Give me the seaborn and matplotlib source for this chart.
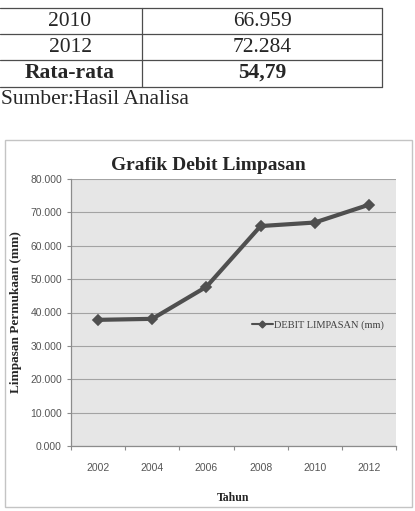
import numpy as np
import pandas as pd
import seaborn as sns
import matplotlib.pyplot as plt
from matplotlib.lines import Line2D
from matplotlib.patches import Rectangle

# data tabel (potongan bagian bawah tabel)
tabel_tahun = ['2010', '2012']
tabel_debit = ['66.959', '72.284']
rata_label = 'Rata-rata'
rata_nilai = '54,79'
sumber = 'Sumber:Hasil Analisa'

# data grafik
tahun = ['2002', '2004', '2006', '2008', '2010', '2012']
debit = [37.8, 38.1, 47.7, 65.9, 66.959, 72.284]
y_ticks = [0, 10, 20, 30, 40, 50, 60, 70, 80]

W, H = 415, 511


def px(x, y):
    # piksel -> koordinat figure
    return x / W, 1 - y / H


sns.set_theme(style='whitegrid', rc={'axes.facecolor': '#e6e6e6',
                                     'grid.color': '#a3a3a3',
                                     'grid.linewidth': 0.8,
                                     'axes.edgecolor': '#8c8c8c'})
plt.rcParams['font.family'] = ['Liberation Serif', 'DejaVu Serif']

fig = plt.figure(figsize=(W / 100, H / 100), dpi=100)
fig.patch.set_facecolor('white')

# ---- tabel ----
garis = dict(color='#4d4d4d', lw=0.9)
for yy in [8, 34, 60, 87]:
    fig.add_artist(Line2D([0, 382 / W], [1 - yy / H] * 2, **garis))
for xx in [142, 382]:
    fig.add_artist(Line2D([xx / W] * 2, [1 - 8 / H, 1 - 87 / H], **garis))

baris_y = [21, 47]
for t, d, yy in zip(tabel_tahun, tabel_debit, baris_y):
    fig.text(*px(70, yy), t, ha='center', va='center', fontsize=15.5)
    fig.text(*px(262, yy), d, ha='center', va='center', fontsize=15.5)
fig.text(*px(70, 73), rata_label, ha='center', va='center', fontsize=15.5, fontweight='bold')
fig.text(*px(262, 73), rata_nilai, ha='center', va='center', fontsize=15.5, fontweight='bold')
fig.text(*px(1, 100), sumber, ha='left', va='center', fontsize=15.5)

# ---- kotak grafik ----
fig.add_artist(Rectangle(px(5, 507), 407 / W, 367 / H, fill=False,
                         edgecolor='#c4c4c4', lw=1.0, transform=fig.transFigure))

ax = fig.add_axes([71 / W, 1 - 446 / H, 325 / W, 267 / H])

df = pd.DataFrame({'Tahun': tahun, 'Debit': debit})
sns.pointplot(data=df, x='Tahun', y='Debit', color='#4f4f4f', markers='D',
              linestyles='-', linewidth=3.0, markersize=5, markeredgewidth=1.2,
              errorbar=None, ax=ax)

ax.set_xlim(-0.5, len(tahun) - 0.5)
ax.set_ylim(0, 80)
ax.set_yticks(y_ticks)
ax.set_yticklabels([f'{v:.3f}' for v in y_ticks])
ax.grid(axis='x', visible=False)
ax.grid(axis='y', visible=True)
ax.set_axisbelow(True)

for s in ['top', 'right']:
    ax.spines[s].set_visible(False)
for s in ['left', 'bottom']:
    ax.spines[s].set_color('#8c8c8c')
    ax.spines[s].set_linewidth(0.9)

ax.tick_params(axis='y', which='major', length=3, color='#8c8c8c', width=0.8,
               pad=3.5, labelsize=7.5, labelcolor='#555555', left=True)
ax.set_xticks(np.arange(-0.5, len(tahun), 1.0), minor=True)
ax.tick_params(axis='x', which='major', length=0, pad=12, labelsize=7.5,
               labelcolor='#555555')
ax.tick_params(axis='x', which='minor', length=3, color='#8c8c8c', width=0.8,
               bottom=True, direction='out')
for lab in ax.get_xticklabels() + ax.get_yticklabels():
    lab.set_family(['Liberation Sans', 'DejaVu Sans'])

ax.set_xlabel('Tahun', fontsize=8.5, fontweight='bold')
ax.xaxis.set_label_coords(0.5, -0.172)
ax.set_ylabel('Limpasan Permukaan (mm)', fontsize=9.5, fontweight='bold')
ax.yaxis.set_label_coords(-0.151, 0.5)

fig.text(*px(208, 165), 'Grafik Debit Limpasan', ha='center', va='center',
         fontsize=14, fontweight='bold')

handle = Line2D([], [], color='#4f4f4f', lw=1.5, marker='D', markersize=3.5)
ax.legend([handle], ['DEBIT LIMPASAN (mm)'], loc='center right',
          bbox_to_anchor=(0.98, 0.453), frameon=False, fontsize=7.5,
          handlelength=2.1, handletextpad=0.1, borderpad=0,
          labelcolor='#404040')

fig.savefig('out.png', dpi=100)
